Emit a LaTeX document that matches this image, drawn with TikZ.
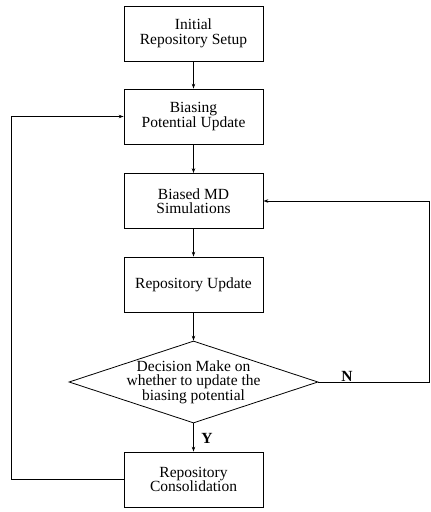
\documentclass[tikz,border=0pt]{standalone}
\usepackage{fontspec}
\setmainfont{Liberation Serif}
\usetikzlibrary{shapes.geometric, arrows.meta}

\tikzset{
	stepbox/.style={draw, line width=0.8bp, minimum width=139bp, minimum height=55bp, align=center, inner sep=2bp},
	decision/.style={draw, diamond, line width=0.8bp, minimum width=249bp, minimum height=82bp, shape aspect=3, align=center, inner sep=-4bp},
	flow/.style={line width=0.8bp, -{Stealth[length=5bp, width=3.5bp]}},
	answer/.style={font=\fontsize{15.5bp}{15bp}\selectfont\bfseries}
}

\begin{document}
\begin{tikzpicture}[x=1bp, y=-1bp, font=\fontsize{15.5bp}{14.5bp}\selectfont]
	%\draw[help lines] (0,0) grid (430,512);
	\useasboundingbox (0,0) rectangle (430,512);

	\node [stepbox] (setup) at (193.5, 33.5) {Initial\\Repository Setup};
	\node [stepbox] (bias) at (193.5, 116.5) {Biasing\\Potential Update};
	\node [stepbox] (md) at (193.5, 201) {Biased MD\\Simulations};
	\node [stepbox] (repo) at (193.5, 284.5) {Repository Update};
	\node [decision] (decide) at (193.5, 382) {Decision Make on\\whether to update the\\biasing potential};
	\node [stepbox] (consol) at (193.5, 479.5) {Repository\\Consolidation};

	\coordinate (leftcorner) at (11.7, 0);		% linke Rueckfuehrung
	\coordinate (rightcorner) at (429, 0);		% rechte Rueckfuehrung

	\draw [flow] (setup) -- (bias);
	\draw [flow] (bias) -- (md);
	\draw [flow] (md) -- (repo);
	\draw [flow] (repo) -- (decide);
	\draw [flow] (decide) -- (consol);

	\draw [flow] (consol.west) -- (consol.west -| leftcorner) -- (bias.west -| leftcorner) -- (bias.west);
	\draw [flow] (decide.east) -- (decide.east -| rightcorner) -- (md.east -| rightcorner) -- (md.east);

	\node [answer] (no) at (347, 376) {N};
	\node [answer] (yes) at (207, 438) {Y};

\end{tikzpicture}
\end{document}
